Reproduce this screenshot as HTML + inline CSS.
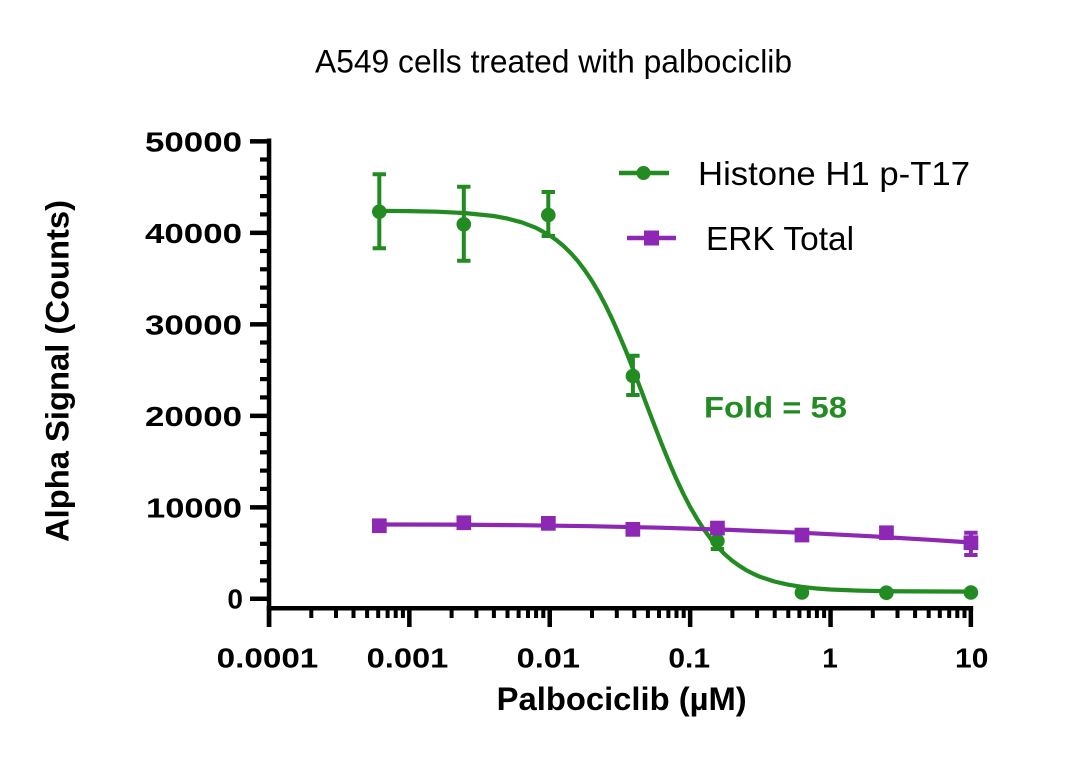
<!DOCTYPE html>
<html>
<head>
<meta charset="utf-8">
<style>
  html, body { margin: 0; padding: 0; background: #ffffff; }
  svg { display: block; }
  text { font-family: "Liberation Sans", "DejaVu Sans", sans-serif; }
</style>
</head>
<body>
<svg width="1080" height="774" viewBox="0 0 1080 774" xmlns="http://www.w3.org/2000/svg">
  <rect width="1080" height="774" fill="#ffffff"/>

  <text x="315" y="72.7" font-size="32" fill="#000" textLength="477" lengthAdjust="spacingAndGlyphs">A549 cells treated with palbociclib</text>

  <rect x="266.8" y="138.5" width="4.5" height="488.5" fill="#000"/>
  <g fill="#000">
    <rect x="250" y="139.1" width="21" height="4.5"/>
    <rect x="250" y="230.6" width="21" height="4.5"/>
    <rect x="250" y="322.1" width="21" height="4.5"/>
    <rect x="250" y="413.6" width="21" height="4.5"/>
    <rect x="250" y="505.1" width="21" height="4.5"/>
    <rect x="250" y="596.5" width="21" height="4.5"/>
    <rect x="260" y="157.4" width="11" height="4.2"/>
    <rect x="260" y="175.7" width="11" height="4.2"/>
    <rect x="260" y="194.0" width="11" height="4.2"/>
    <rect x="260" y="212.3" width="11" height="4.2"/>
    <rect x="260" y="248.9" width="11" height="4.2"/>
    <rect x="260" y="267.2" width="11" height="4.2"/>
    <rect x="260" y="285.5" width="11" height="4.2"/>
    <rect x="260" y="303.8" width="11" height="4.2"/>
    <rect x="260" y="340.4" width="11" height="4.2"/>
    <rect x="260" y="358.7" width="11" height="4.2"/>
    <rect x="260" y="377.0" width="11" height="4.2"/>
    <rect x="260" y="395.3" width="11" height="4.2"/>
    <rect x="260" y="431.9" width="11" height="4.2"/>
    <rect x="260" y="450.2" width="11" height="4.2"/>
    <rect x="260" y="468.5" width="11" height="4.2"/>
    <rect x="260" y="486.8" width="11" height="4.2"/>
    <rect x="260" y="523.4" width="11" height="4.2"/>
    <rect x="260" y="541.7" width="11" height="4.2"/>
    <rect x="260" y="560.0" width="11" height="4.2"/>
    <rect x="260" y="578.3" width="11" height="4.2"/>
  </g>
  <g font-size="28" font-weight="bold" fill="#000" text-anchor="end">
    <text x="242" y="151.5" textLength="97" lengthAdjust="spacingAndGlyphs">50000</text>
    <text x="242" y="243" textLength="97" lengthAdjust="spacingAndGlyphs">40000</text>
    <text x="242" y="334.5" textLength="97" lengthAdjust="spacingAndGlyphs">30000</text>
    <text x="242" y="426" textLength="97" lengthAdjust="spacingAndGlyphs">20000</text>
    <text x="242" y="517.5" textLength="96" lengthAdjust="spacingAndGlyphs">10000</text>
    <text x="243" y="608.5">0</text>
  </g>

  <rect x="266.8" y="606" width="706.3" height="4.5" fill="#000"/>
  <g fill="#000">
    <rect x="266.8" y="606" width="4.5" height="21"/>
    <rect x="407.1" y="606" width="4.5" height="21"/>
    <rect x="547.5" y="606" width="4.5" height="21"/>
    <rect x="687.9" y="606" width="4.5" height="21"/>
    <rect x="828.3" y="606" width="4.5" height="21"/>
    <rect x="968.6" y="606" width="4.5" height="21"/>
    <rect x="309.3" y="606" width="4" height="12"/>
    <rect x="334.0" y="606" width="4" height="12"/>
    <rect x="351.5" y="606" width="4" height="12"/>
    <rect x="365.1" y="606" width="4" height="12"/>
    <rect x="376.2" y="606" width="4" height="12"/>
    <rect x="385.6" y="606" width="4" height="12"/>
    <rect x="393.7" y="606" width="4" height="12"/>
    <rect x="400.9" y="606" width="4" height="12"/>
    <rect x="449.6" y="606" width="4" height="12"/>
    <rect x="474.4" y="606" width="4" height="12"/>
    <rect x="491.9" y="606" width="4" height="12"/>
    <rect x="505.5" y="606" width="4" height="12"/>
    <rect x="516.6" y="606" width="4" height="12"/>
    <rect x="526.0" y="606" width="4" height="12"/>
    <rect x="534.1" y="606" width="4" height="12"/>
    <rect x="541.3" y="606" width="4" height="12"/>
    <rect x="590.0" y="606" width="4" height="12"/>
    <rect x="614.8" y="606" width="4" height="12"/>
    <rect x="632.3" y="606" width="4" height="12"/>
    <rect x="645.9" y="606" width="4" height="12"/>
    <rect x="657.0" y="606" width="4" height="12"/>
    <rect x="666.4" y="606" width="4" height="12"/>
    <rect x="674.5" y="606" width="4" height="12"/>
    <rect x="681.7" y="606" width="4" height="12"/>
    <rect x="730.4" y="606" width="4" height="12"/>
    <rect x="755.1" y="606" width="4" height="12"/>
    <rect x="772.7" y="606" width="4" height="12"/>
    <rect x="786.3" y="606" width="4" height="12"/>
    <rect x="797.4" y="606" width="4" height="12"/>
    <rect x="806.8" y="606" width="4" height="12"/>
    <rect x="814.9" y="606" width="4" height="12"/>
    <rect x="822.1" y="606" width="4" height="12"/>
    <rect x="870.8" y="606" width="4" height="12"/>
    <rect x="895.5" y="606" width="4" height="12"/>
    <rect x="913.1" y="606" width="4" height="12"/>
    <rect x="926.7" y="606" width="4" height="12"/>
    <rect x="937.8" y="606" width="4" height="12"/>
    <rect x="947.2" y="606" width="4" height="12"/>
    <rect x="955.3" y="606" width="4" height="12"/>
    <rect x="962.5" y="606" width="4" height="12"/>
  </g>
  <g font-size="28" font-weight="bold" fill="#000" text-anchor="middle">
    <text x="267.5" y="667.3" textLength="101.6" lengthAdjust="spacingAndGlyphs">0.0001</text>
    <text x="407.5" y="667.3" textLength="81.7" lengthAdjust="spacingAndGlyphs">0.001</text>
    <text x="548.3" y="667.3" textLength="63.3" lengthAdjust="spacingAndGlyphs">0.01</text>
    <text x="689.2" y="667.3" textLength="41.7" lengthAdjust="spacingAndGlyphs">0.1</text>
    <text x="830" y="667.3">1</text>
    <text x="971.7" y="667.3" textLength="33.3" lengthAdjust="spacingAndGlyphs">10</text>
  </g>

  <text x="621.7" y="710" font-size="32" font-weight="bold" fill="#000" text-anchor="middle" textLength="250" lengthAdjust="spacingAndGlyphs">Palbociclib (µM)</text>
  <text transform="translate(68.3,371) rotate(-90)" x="0" y="0" font-size="32" font-weight="bold" fill="#000" text-anchor="middle" textLength="342" lengthAdjust="spacingAndGlyphs">Alpha Signal (Counts)</text>

  <path d="M379.3,210.8 L409.4,211.1 L437.4,211.7 L465.5,213.1 L493.6,216.0 L507.6,218.6 L521.6,222.3 L535.7,227.7 L549.75,235.4 L556.8,240.4 L563.8,246.2 L570.8,253.1 L577.8,261.0 L584.8,270.3 L591.9,280.8 L598.9,292.7 L605.9,306.0 L612.9,320.7 L619.9,336.6 L627.0,353.6 L634.0,371.5 L641.0,389.9 L648.0,408.5 L655.1,427.0 L662.1,445.0 L669.1,462.2 L676.1,478.4 L683.1,493.3 L690.1,506.9 L697.2,519.1 L704.2,529.9 L711.2,539.4 L718.2,547.6 L725.2,554.7 L732.2,560.7 L739.3,565.8 L746.3,570.2 L753.3,573.8 L760.3,576.9 L774.4,581.5 L788.4,584.7 L802.5,586.9 L816.5,588.5 L830.6,589.5 L858.6,590.6 L886.7,591.2 L914.8,591.4 L971,591.6" fill="none" stroke="#228b22" stroke-width="4.2" stroke-linejoin="round" stroke-linecap="round"/>
  <g stroke="#228b22" stroke-width="4" fill="none">
    <path d="M379.3,174.3 V248.3 M372.6,174.3 H386 M372.6,248.3 H386"/>
    <path d="M463.8,186.7 V260.7 M457.1,186.7 H470.5 M457.1,260.7 H470.5"/>
    <path d="M548.3,192 V236 M541.6,192 H555 M541.6,236 H555"/>
    <path d="M632.9,355.7 V395 M626.2,355.7 H639.6 M626.2,395 H639.6"/>
    <path d="M717.4,533 V549 M710.7,533 H724.1 M710.7,549 H724.1"/>
  </g>
  <g fill="#228b22">
    <circle cx="379.3" cy="211.7" r="7.3"/>
    <circle cx="463.8" cy="224.3" r="7.3"/>
    <circle cx="548.3" cy="215" r="7.3"/>
    <circle cx="632.9" cy="376" r="7.3"/>
    <circle cx="717.4" cy="541" r="7.3"/>
    <circle cx="801.9" cy="592.5" r="7.3"/>
    <circle cx="886.4" cy="592.7" r="7.3"/>
    <circle cx="970.9" cy="592.5" r="7.3"/>
  </g>

  <path d="M379.3,524.5 L450,524.6 L520,525.2 L590,526.2 L660,527.7 L730,529.9 L800,532.7 L870,536.2 L930,539.8 L971,542.5" fill="none" stroke="#8c28b4" stroke-width="4.2" stroke-linejoin="round" stroke-linecap="round"/>
  <path d="M970.9,532.7 V555 M964.2,532.7 H977.6 M964.2,555 H977.6" stroke="#8c28b4" stroke-width="4" fill="none"/>
  <g fill="#8c28b4">
    <rect x="372" y="518.4" width="14.7" height="14.7"/>
    <rect x="456.5" y="515.4" width="14.7" height="14.7"/>
    <rect x="541" y="516" width="14.7" height="14.7"/>
    <rect x="625.5" y="522" width="14.7" height="14.7"/>
    <rect x="710.1" y="520.7" width="14.7" height="14.7"/>
    <rect x="794.6" y="527.7" width="14.7" height="14.7"/>
    <rect x="879.1" y="525.4" width="14.7" height="14.7"/>
    <rect x="963.6" y="535.4" width="14.7" height="14.7"/>
  </g>

  <text x="704" y="417.3" font-size="30" font-weight="bold" fill="#228b22" textLength="143" lengthAdjust="spacingAndGlyphs">Fold = 58</text>

  <line x1="619" y1="173" x2="669" y2="173" stroke="#228b22" stroke-width="4.5"/>
  <circle cx="643.5" cy="173" r="7" fill="#228b22"/>
  <text x="698" y="185" font-size="33" fill="#000" textLength="272" lengthAdjust="spacingAndGlyphs">Histone H1 p-T17</text>

  <line x1="627" y1="238" x2="676" y2="238" stroke="#8c28b4" stroke-width="4.5"/>
  <rect x="644" y="230.5" width="15" height="15" fill="#8c28b4"/>
  <text x="706" y="250" font-size="33" fill="#000" textLength="148" lengthAdjust="spacingAndGlyphs">ERK Total</text>
</svg>
</body>
</html>
